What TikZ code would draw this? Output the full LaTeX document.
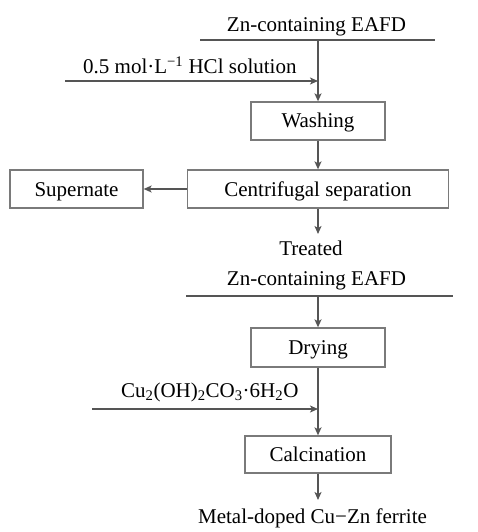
\documentclass[tikz,border=0pt]{standalone}
\usepackage{fontspec}
\setmainfont{Liberation Serif}
\usetikzlibrary{arrows.meta}
\definecolor{lnc}{HTML}{555555}
\definecolor{bxc}{HTML}{7A7A7A}
\begin{document}
\begin{tikzpicture}[x=1pt,y=-1pt,
  every node/.style={font=\fontsize{21}{24}\selectfont, text=black},
  procbox/.style={draw=bxc, line width=1.3pt, inner sep=0pt, minimum height=38pt, text height=14pt, text depth=0pt},
  lbl/.style={inner sep=0pt, anchor=base},
  lbll/.style={inner sep=0pt, anchor=base west},
  feed/.style={draw=lnc, line width=1.5pt},
  flow/.style={draw=lnc, line width=1.5pt, -{Stealth[length=8pt,width=7pt,inset=2pt]}}]
\useasboundingbox (0,0) rectangle (478,532);
% nodes
\node[lbl] (zn1) at (316.5,32) {Zn-containing EAFD};
\node[lbll] (hcl) at (83,74) {0.5 mol·L\textsuperscript{−1} HCl solution};
\node[procbox, minimum width=134pt] (wash) at (318,121) {Washing};
\node[procbox, minimum width=261pt] (cent) at (318,189) {Centrifugal separation};
\node[procbox, minimum width=133pt] (sup) at (76.5,189) {Supernate};
\node[lbl] (treat) at (311,255) {Treated};
\node[lbl] (zn2) at (316.5,285) {Zn-containing EAFD};
\node[procbox, minimum width=134pt, minimum height=39pt] (dry) at (318,347.5) {Drying};
\node[lbll] (cu) at (121,397) {Cu\textsubscript{2}(OH)\textsubscript{2}CO\textsubscript{3}·6H\textsubscript{2}O};
\node[procbox, minimum width=146pt, minimum height=37pt] (calc) at (318,454.5) {Calcination};
\node[lbl] (prod) at (312.5,523) {Metal-doped Cu−Zn ferrite};
% coordinates
\coordinate (t1l) at (200,40);
\coordinate (t1r) at (435,40);
\coordinate (j1) at (318,40);
\coordinate (h1s) at (65,81);
\coordinate (h1e) at (318,81);
\coordinate (tr) at (318,234);
\coordinate (t2l) at (186,296);
\coordinate (t2r) at (453,296);
\coordinate (j2) at (318,296);
\coordinate (c1s) at (92,409);
\coordinate (c1e) at (318,409);
\coordinate (pe) at (318,500);
% connectors
\draw[feed] (t1l) -- (t1r);
\draw[flow] (j1) -- (wash.north);
\draw[flow] (h1s) -- (h1e);
\draw[flow] (wash.south) -- (cent.north);
\draw[flow] (cent.west) -- (sup.east);
\draw[flow] (cent.south) -- (tr);
\draw[feed] (t2l) -- (t2r);
\draw[flow] (j2) -- (dry.north);
\draw[flow] (dry.south) -- (calc.north);
\draw[flow] (c1s) -- (c1e);
\draw[flow] (calc.south) -- (pe);
\end{tikzpicture}
\end{document}
